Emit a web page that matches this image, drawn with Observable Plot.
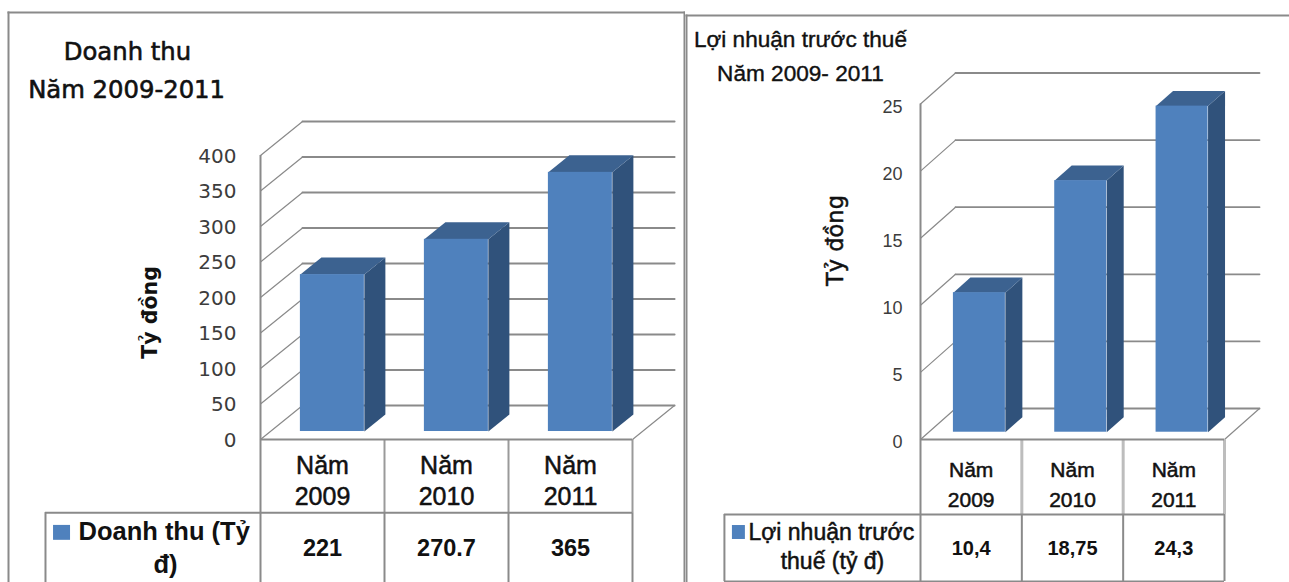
<!DOCTYPE html>
<html>
<head>
<meta charset="utf-8">
<script src="https://cdn.jsdelivr.net/npm/d3@7"></script>
<script src="https://cdn.jsdelivr.net/npm/@observablehq/plot@0.6"></script>
<style>
html,body{margin:0;padding:0;background:#fff;}
#wrap{display:flex;width:1289px;height:582px;overflow:hidden;}
svg{display:block;background:#fff;}
</style>
</head>
<body>
<div id="wrap"></div>
<script>
const categories = ["Năm\n2009", "Năm\n2010", "Năm\n2011"];
const revenueValues = [221, 270.7, 365];
const revenueLabels = ["221", "270.7", "365"];
const revenueTicks = [0, 50, 100, 150, 200, 250, 300, 350, 400];
const profitValues = [10.4, 18.75, 24.3];
const profitLabels = ["10,4", "18,75", "24,3"];
const profitTicks = [0, 5, 10, 15, 20, 25];

const FRONT = "#4f81bd", TOP = "#3c6290", SIDE = "#30527b", LINE = "#8a8a8a", INK = "#111";

function panel(c) {
  const idx = c.values.map((_, i) => i);
  const P = (cat, val, d) => ({x: cat + d * c.depthX, y: val + d * c.depthY});
  const barL = i => i + 0.5 - c.barW / 2, barR = i => i + 0.5 + c.barW / 2;
  const [d0, d1] = c.barDepth;

  const slants = c.ticks.flatMap(t => [{t, ...P(0, t, 0)}, {t, ...P(0, t, 1)}]);
  const backs = c.ticks.flatMap(t => [{t, ...P(0, t, 1)}, {t, ...P(3, t, 1)}]);
  const floorEdge = [P(3, 0, 0), P(3, 0, 1)];
  const tops = idx.flatMap(i => [
    P(barL(i), c.values[i], d0), P(barL(i), c.values[i], d1),
    P(barR(i), c.values[i], d1), P(barR(i), c.values[i], d0)
  ].map(p => ({i, ...p})));
  const sides = idx.flatMap(i => [
    P(barR(i), 0, d0), P(barR(i), 0, d1),
    P(barR(i), c.values[i], d1), P(barR(i), c.values[i], d0)
  ].map(p => ({i, ...p})));
  const fronts = idx.map(i => ({
    x1: P(barL(i), 0, d0).x, x2: P(barR(i), 0, d0).x,
    y1: P(0, 0, d0).y, y2: P(0, c.values[i], d0).y
  }));
  const heavy = w => ({stroke: INK, strokeWidth: w});

  return Plot.plot({
    width: c.width, height: 582,
    marginLeft: c.mLeft, marginRight: c.mRight, marginTop: c.mTop, marginBottom: 0,
    style: {background: "#fff", fontFamily: "'Liberation Sans'", overflow: "hidden"},
    x: {domain: [0, 3], range: c.xRange, axis: null},
    y: {domain: c.yDomain, range: c.yRange, axis: null},
    marks: [
      Plot.frame({anchor: "left", stroke: LINE, strokeWidth: 2}),
      Plot.frame({anchor: "top", stroke: LINE, strokeWidth: 2}),
      ...(c.frameRight ? [Plot.frame({anchor: "right", stroke: LINE, strokeWidth: 2})] : []),
      // wall and floor grid
      Plot.line(slants, {x: "x", y: "y", z: "t", stroke: LINE, strokeWidth: 1.2}),
      Plot.line(backs, {x: "x", y: "y", z: "t", stroke: LINE, strokeWidth: c.gridW}),
      Plot.line(floorEdge, {x: "x", y: "y", stroke: LINE, strokeWidth: 1.2}),
      // table
      Plot.ruleX([0], {y1: c.tableBottom, y2: c.yDomain[1], stroke: LINE, strokeWidth: 2}),
      Plot.ruleX([1, 2, 3], {y1: c.rowY, y2: 0, stroke: c.headDiv, strokeWidth: c.headDivW}),
      Plot.ruleX([1, 2, 3], {y1: c.tableBottom, y2: c.rowY, stroke: LINE, strokeWidth: 2}),
      Plot.ruleX([c.legendX], {y1: c.tableBottom, y2: c.rowY, stroke: LINE, strokeWidth: 2}),
      Plot.ruleY([0], {x1: 0, x2: 3, stroke: LINE, strokeWidth: 2}),
      Plot.ruleY([c.rowY], {x1: c.legendX, x2: 3, stroke: LINE, strokeWidth: 2}),
      ...(c.showBottom ? [Plot.ruleY([c.tableBottom], {x1: c.legendX, x2: 3, stroke: LINE, strokeWidth: 2})] : []),
      // bars
      Plot.line(sides, {x: "x", y: "y", z: "i", fill: SIDE}),
      Plot.line(tops, {x: "x", y: "y", z: "i", fill: TOP}),
      Plot.rect(fronts, {x1: "x1", x2: "x2", y1: "y1", y2: "y2", fill: FRONT}),
      // axis
      Plot.axisY(c.ticks, {
        anchor: "left", tickSize: 0, tickPadding: 0, dx: c.axisDx, dy: c.axisDy, label: null,
        fontFamily: c.axisFont, fontSize: c.axisSize, color: "#3c3c3c"
      }),
      Plot.text(["Tỷ đồng"], {
        x: c.yTitle[0], y: c.yTitle[1], rotate: -90, fontWeight: c.yTitleWeight,
        fontFamily: c.yTitleFont, fontSize: c.yTitleSize, fill: INK, ...heavy(c.yTitleStroke)
      }),
      // titles
      Plot.text(c.titles, {
        x: (_, i) => c.titleX[i], y: (_, i) => c.titleY[i],
        fontFamily: c.titleFont, fontSize: c.titleSize, fill: INK, ...heavy(c.titleStroke)
      }),
      // table text
      Plot.text(categories, {
        x: (_, i) => i + 0.5, y: c.headY, lineHeight: c.headLine,
        fontFamily: "'Liberation Sans'", fontSize: c.headSize, fill: INK, ...heavy(0.5)
      }),
      Plot.text(c.labels, {
        x: (_, i) => i + 0.5, y: c.valY,
        fontFamily: "'Liberation Sans'", fontWeight: "bold", fontSize: c.valSize, fill: INK
      }),
      Plot.rect([c.swatch], {x1: d => d[0], x2: d => d[1], y1: d => d[2], y2: d => d[3], fill: FRONT}),
      Plot.text([c.legend[0]], {
        x: c.leg1[0], y: c.leg1[1], textAnchor: "start",
        fontFamily: "'Liberation Sans'", fontWeight: c.legWeight, fontSize: c.legSize, fill: INK, ...heavy(c.legStroke)
      }),
      Plot.text([c.legend[1]], {
        x: c.leg2[0], y: c.leg2[1],
        fontFamily: "'Liberation Sans'", fontWeight: c.legWeight, fontSize: c.legSize, fill: INK, ...heavy(c.legStroke)
      })
    ]
  });
}

const wrap = document.getElementById("wrap");
wrap.append(panel({
  width: 685, mLeft: 8, mRight: 1, mTop: 12, frameRight: true,
  xRange: [260, 632], yDomain: [0, 400], yRange: [439, 155],
  values: revenueValues, labels: revenueLabels, ticks: revenueTicks,
  depthX: 0.339, depthY: 47.9, barW: 0.516, barDepth: [0.235, 0.735],
  gridW: 2, headDiv: "#9a9a9a", headDivW: 2,
  legendX: -1.734, rowY: -103, tableBottom: -210, showBottom: false,
  axisDx: 228, axisDy: 1, axisFont: "'DejaVu Sans'", axisSize: 20,
  yTitle: [-0.885, 179], yTitleFont: "'DejaVu Sans'", yTitleWeight: "bold", yTitleSize: 20.5, yTitleStroke: 0,
  titles: ["Doanh thu", "Năm 2009-2011"], titleX: [-1.073, -1.08], titleY: [545, 491.5],
  titleFont: "'DejaVu Sans'", titleSize: 24.3, titleStroke: 0.6,
  headY: -57, headLine: 1.24, headSize: 25,
  valY: -153.5, valSize: 23.5,
  swatch: [-1.669, -1.532, -121, -142],
  legend: ["Doanh thu (Tỷ", "đ)"], leg1: [-1.468, -130.3], leg2: [-0.766, -176],
  legWeight: "bold", legSize: 25.5, legStroke: 0
}));
wrap.append(panel({
  width: 604, mLeft: 1, mRight: 0, mTop: 15, frameRight: false,
  xRange: [235, 539], yDomain: [0, 25], yRange: [439, 103.5],
  values: profitValues, labels: profitLabels, ticks: profitTicks,
  depthX: 0.3455, depthY: 2.31, barW: 0.513, barDepth: [0.235, 0.72],
  gridW: 1.8, headDiv: "#bdbdbd", headDivW: 3,
  legendX: -1.935, rowY: -5.59, tableBottom: -10.58, showBottom: true,
  axisDx: 216, axisDy: 3, axisFont: "'Liberation Sans'", axisSize: 18,
  yTitle: [-0.84, 14.83], yTitleFont: "'DejaVu Sans'", yTitleWeight: "normal", yTitleSize: 22.5, yTitleStroke: 0.5,
  titles: ["Lợi nhuận trước thuế", "Năm 2009- 2011"], titleX: [-1.185, -1.185], titleY: [29.8, 27.27],
  titleFont: "'Liberation Sans'", titleSize: 22.6, titleStroke: 0.4,
  headY: -3.2, headLine: 1.45, headSize: 21,
  valY: -8.12, valSize: 20,
  swatch: [-1.856, -1.728, -6.41, -7.45],
  legend: ["Lợi nhuận trước", "thuế (tỷ đ)"], leg1: [-1.698, -6.93], leg2: [-0.869, -9.09],
  legWeight: "normal", legSize: 23, legStroke: 0.5
}));
</script>
</body>
</html>
